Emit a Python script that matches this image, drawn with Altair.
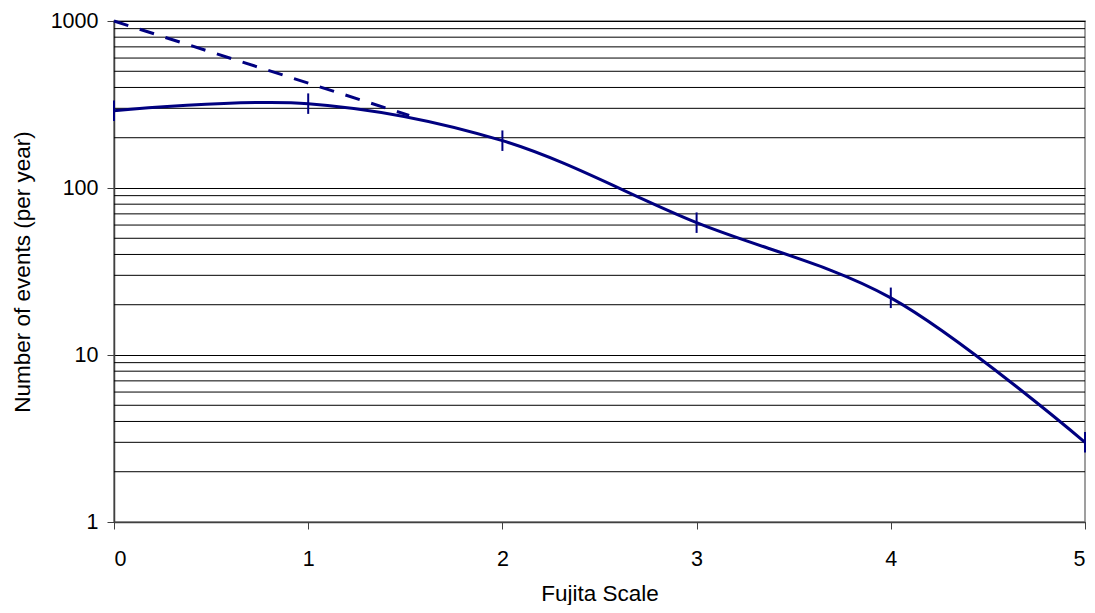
import altair as alt
import pandas as pd

# Data
fujita = [0, 1, 2, 3, 4, 5]
events = [290, 320, 192, 62, 22, 3]
trend_x = [0, 1.52]
trend_y = [1000, 272]
x_ticks = [0, 1, 2, 3, 4, 5]
major_ticks = [1, 10, 100, 1000]
minor_grid = [2, 3, 4, 5, 6, 7, 8, 9,
              20, 30, 40, 50, 60, 70, 80, 90,
              200, 300, 400, 500, 600, 700, 800, 900]

obs = pd.DataFrame({"x": fujita, "y": events})
trend = pd.DataFrame({"x": trend_x, "y": trend_y})
grid = pd.DataFrame({"g": minor_grid})

FONT = "Liberation Sans"
NAVY = "#000080"
W, H = 971, 501

xscale = alt.Scale(domain=[0, 5], nice=False, zero=False)
yscale = alt.Scale(type="log", domain=[1, 1000], nice=False)

xaxis = alt.Axis(
    values=x_ticks, title="Fujita Scale", grid=False,
    labelFont=FONT, labelFontSize=21.5, labelColor="black", labelPadding=19,
    titleFont=FONT, titleFontSize=22.5, titleFontWeight="normal", titleColor="black",
    titleY=78, titleBaseline="alphabetic",
    tickSize=7, tickColor="#404040", domainColor="#404040", domainWidth=1.5,
    format="d",
)
yaxis = alt.Axis(
    values=major_ticks, title="Number of events (per year)", grid=True,
    gridColor="black", gridWidth=1, gridOpacity=1,
    labelFont=FONT, labelFontSize=21.5, labelColor="black", labelPadding=9,
    titleFont=FONT, titleFontSize=22.5, titleFontWeight="normal", titleColor="black",
    titleX=-91.5, titleY=H / 2, titleAngle=270, titleBaseline="middle", titleAlign="center",
    tickSize=7, tickColor="#404040", domainColor="#404040", domainWidth=1.5,
    format="d",
)

minor = alt.Chart(grid).mark_rule(color="black", strokeWidth=1).encode(
    y=alt.Y("g:Q", scale=yscale, axis=yaxis)
)

dashed = alt.Chart(trend).mark_line(color=NAVY, strokeWidth=3, strokeDash=[15, 12]).encode(
    x=alt.X("x:Q", scale=xscale, axis=xaxis),
    y=alt.Y("y:Q", scale=yscale, axis=yaxis),
)

solid = alt.Chart(obs).mark_line(color=NAVY, strokeWidth=3, interpolate="catmull-rom").encode(
    x=alt.X("x:Q", scale=xscale, axis=xaxis),
    y=alt.Y("y:Q", scale=yscale, axis=yaxis),
)

markers = alt.Chart(obs).mark_point(
    shape="M0,-1L0,1", size=420, color=NAVY, strokeWidth=2, filled=False, opacity=1
).encode(
    x=alt.X("x:Q", scale=xscale, axis=xaxis),
    y=alt.Y("y:Q", scale=yscale, axis=yaxis),
)

chart = alt.layer(minor, dashed, solid, markers).properties(
    width=W, height=H,
    autosize=alt.AutoSizeParams(type="none"),
    padding={"left": 106, "top": 13, "right": 2, "bottom": 83},
    background="white",
).configure_view(stroke="#808080", strokeWidth=1.5)

chart.save("out.html", embed_options={"renderer": "svg", "actions": False})
